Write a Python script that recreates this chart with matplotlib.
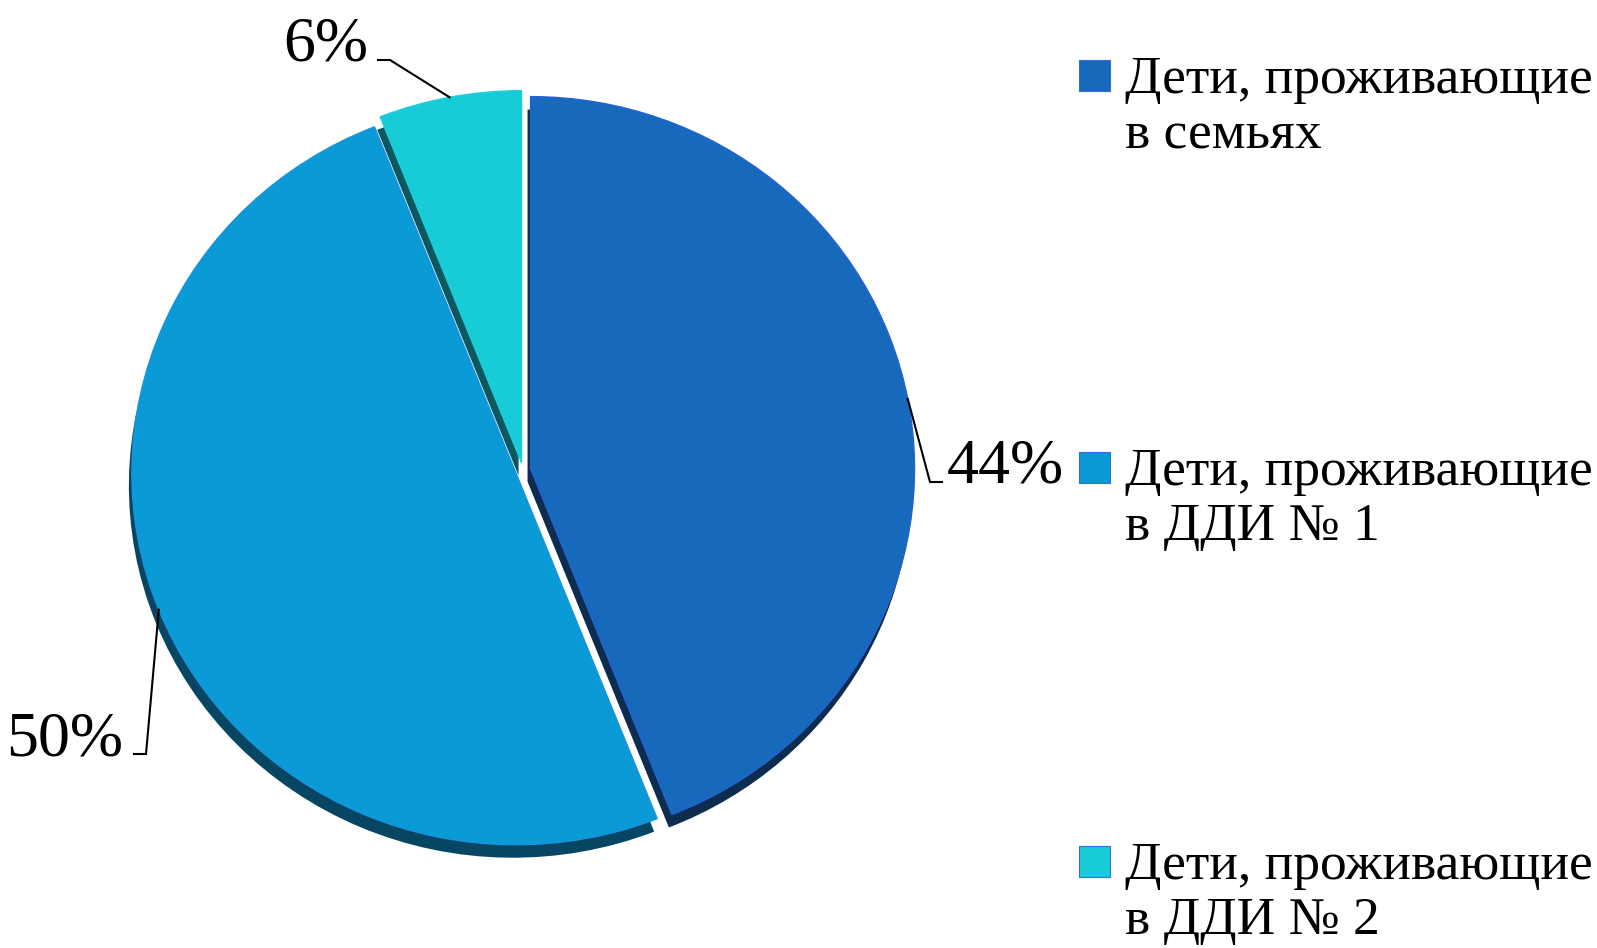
import matplotlib
matplotlib.use('Agg')
import matplotlib.pyplot as plt
import numpy as np
from matplotlib.patches import Rectangle

# dane z wykresu
kategorie = ['Дети, проживающие\nв семьях',
             'Дети, проживающие\nв ДДИ № 1',
             'Дети, проживающие\nв ДДИ № 2']
udzialy = [44, 50, 6]
etykiety = ['44%', '50%', '6%']

kolory = ['#1669BB', '#0A9AD5', '#17CCD6']
kolory_cienia = ['#0C2C50', '#074662', '#0B5860']
krawedzie = ['#2563D6', '#1A93DE', '#1BD0DA']
explode = [0.02, 0.02, 0.02]

W, H = 1597, 948
CX, CY, RX, RY = 523, 470, 384, 372   # srodek i promienie kola (piksele)
CIEN_DX, CIEN_DY = -3, 13             # przesuniecie "boku" 3D

plt.rcParams['font.family'] = ['Liberation Serif', 'DejaVu Serif']

fig = plt.figure(figsize=(W / 100, H / 100), dpi=100)

ax_pie = fig.add_axes([(CX - RX) / W, (H - CY - RY) / H, 2 * RX / W, 2 * RY / H])

# cien / bok 3D
ax_pie.pie(udzialy, colors=kolory_cienia, startangle=90, counterclock=False,
           explode=explode, radius=1,
           center=(CIEN_DX / RX, -CIEN_DY / RY),
           wedgeprops=dict(linewidth=0))
# gorna powierzchnia
wedges, _ = ax_pie.pie(udzialy, colors=kolory, startangle=90, counterclock=False,
                       explode=explode, radius=1, center=(0, 0),
                       wedgeprops=dict(linewidth=1.0))
for w, k in zip(wedges, krawedzie):
    w.set_edgecolor(k)

ax_pie.set_aspect('auto')
ax_pie.set_xlim(-1, 1)
ax_pie.set_ylim(-1, 1)
ax_pie.axis('off')

# nakladka w pikselach na etykiety i legende
ax = fig.add_axes([0, 0, 1, 1])
ax.set_xlim(0, W)
ax.set_ylim(H, 0)
ax.axis('off')
ax.patch.set_alpha(0)

# polozenie etykiet: (x tekstu, linia bazowa, ha, x kolanka, y kolanka, x konca)
uklad = [
    (947, 482, 'left', 930, 482, 942),
    (123, 755, 'right', 146, 754, 134),
    (368, 60, 'right', 390, 60, 378),
]

do_pix = ax_pie.transData
z_pix = ax.transData.inverted()
for w, tekst, (tx, ty, ha, ex, ey, kx) in zip(wedges, etykiety, uklad):
    kat = np.deg2rad((w.theta1 + w.theta2) / 2)
    px, py = w.center[0] + np.cos(kat), w.center[1] + np.sin(kat)
    sx, sy = z_pix.transform(do_pix.transform((px, py)))
    ax.plot([sx, ex, kx], [sy, ey, ey], color='black', lw=1.5,
            solid_joinstyle='miter')
    ax.text(tx, ty, tekst, fontsize=46, ha=ha, va='baseline', color='black')

# legenda
leg_y = [75, 467, 861]
for k, nazwa, y in zip(kolory, kategorie, leg_y):
    ax.add_patch(Rectangle((1079, y - 15.5), 31, 31, facecolor=k,
                           edgecolor='#2F6FE0', lw=0.8))
    # va='baseline' wyrownuje ostatnia linie
    ax.text(1125, y + 73, nazwa, fontsize=38.5, ha='left', va='baseline',
            color='black', linespacing=1.2)

fig.savefig('out.png', dpi=100)
